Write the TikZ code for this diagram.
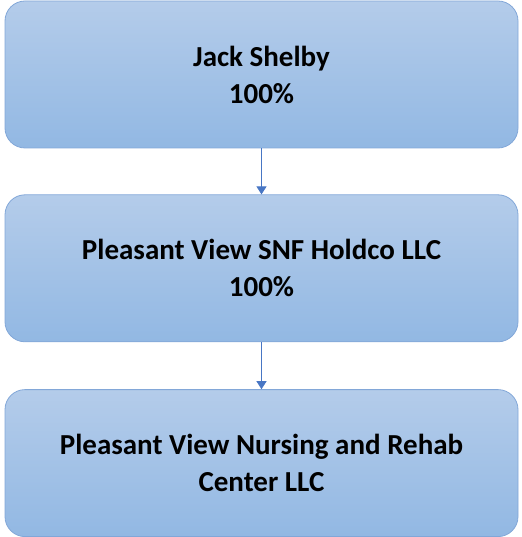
\documentclass[tikz,border=0pt]{standalone}
\usepackage{fontspec}
\setmainfont{Carlito}
\usetikzlibrary{positioning, arrows.meta}

\definecolor{boxtop}{RGB}{180,204,234}
\definecolor{boxbottom}{RGB}{146,184,227}
\definecolor{boxline}{RGB}{130,167,216}
\definecolor{linkblue}{RGB}{72,118,196}

\tikzset{
  entity/.style={rectangle, rounded corners=20pt, draw=boxline, line width=0.8pt,
    top color=boxtop, bottom color=boxbottom, minimum width=513pt,
    minimum height=147pt, align=center, inner sep=0pt,
    font=\fontsize{29}{37}\selectfont\bfseries},
  owns/.style={-{Triangle[length=8pt,width=10pt]}, draw=linkblue, line width=0.9pt}
}

\begin{document}
\begin{tikzpicture}[node distance=46pt]
      \useasboundingbox (0,0) rectangle (521pt,-537pt);
      \node[entity] (shelby) at (261.5pt,-74.5pt) {Jack Shelby\\100\%};
      \node[entity] (holdco) [below=of shelby] {Pleasant View SNF Holdco LLC\\100\%};
      \node[entity] (center) [below=47pt of holdco] {Pleasant View Nursing and Rehab\\Center LLC};
      \draw[owns] (shelby) -- (holdco);
      \draw[owns] (holdco) -- (center);
    \end{tikzpicture}
\end{document}
